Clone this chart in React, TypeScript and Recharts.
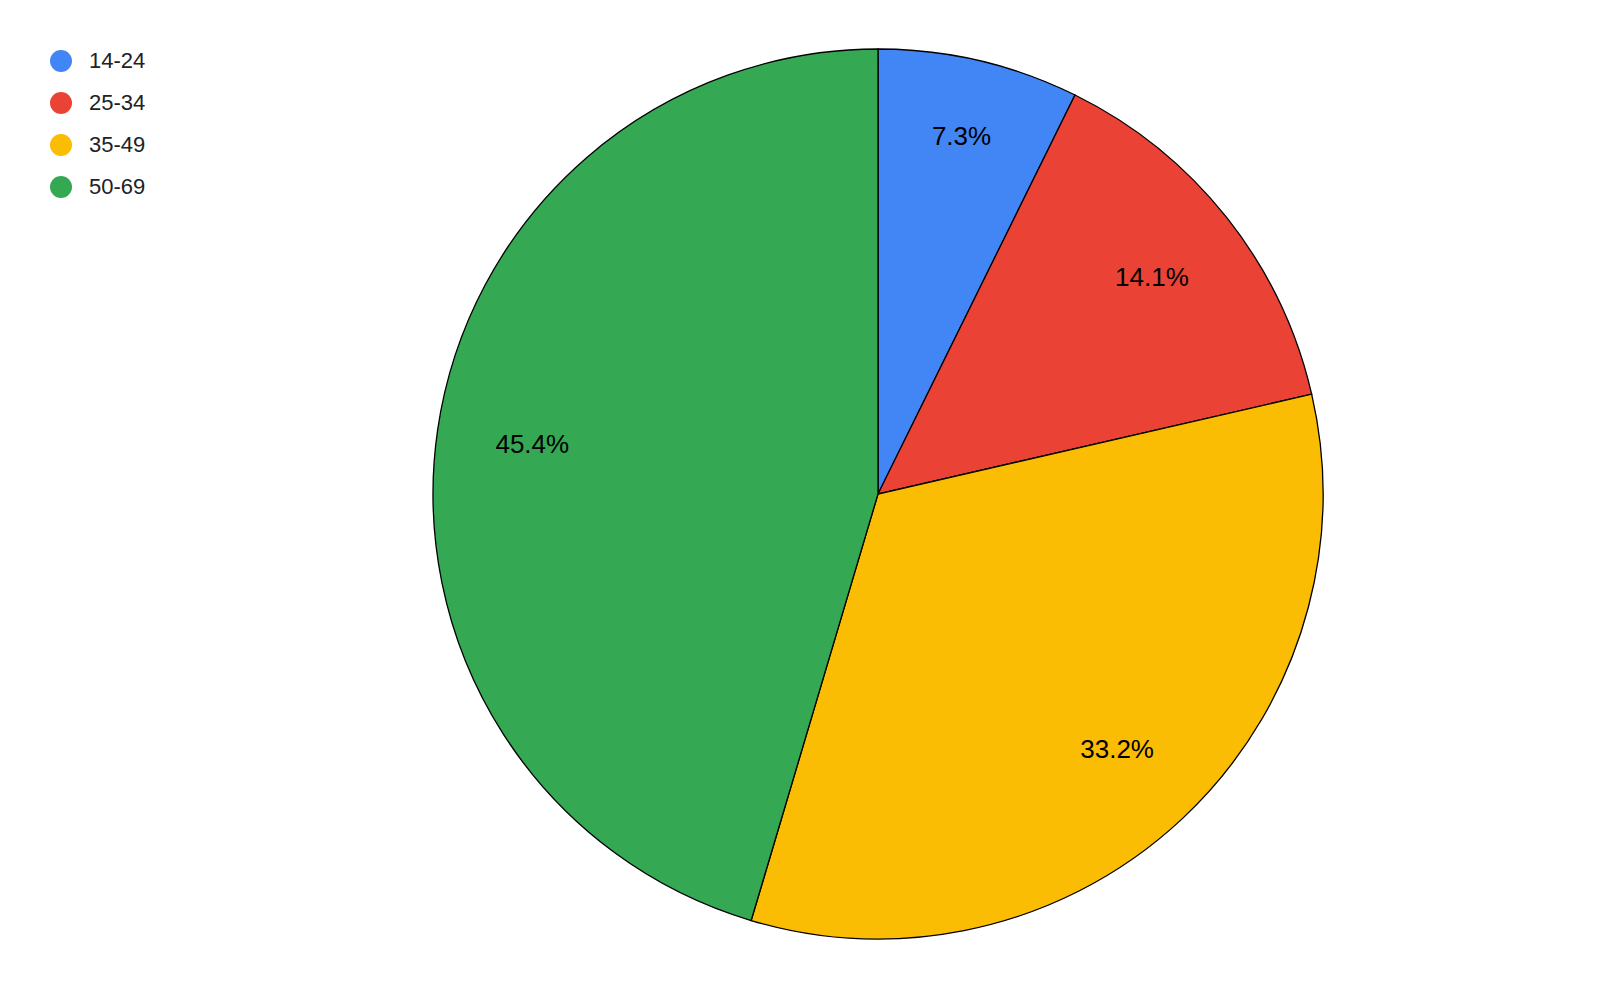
import { PieChart, Pie, Cell } from "recharts";

const ageGroups = ["14-24", "25-34", "35-49", "50-69"];
const shares = [7.3, 14.1, 33.2, 45.4];
const sliceColors = ["#4285F4", "#EA4335", "#FBBC04", "#34A853"];

const data = ageGroups.map((name, i) => ({ name, value: shares[i] }));

const RADIAN = Math.PI / 180;
const FONT = "Arial, 'Liberation Sans', sans-serif";

const renderLabel = ({ cx, cy, midAngle, outerRadius, percent }: any) => {
  // narrow slices get their label pushed a bit further out, like the original
  const r = outerRadius * (percent < 0.1 ? 0.826 : 0.785);
  const x = cx + r * Math.cos(-midAngle * RADIAN);
  const y = cy + r * Math.sin(-midAngle * RADIAN);
  return (
    <text x={x} y={y} fill="#000" fontSize={26} fontFamily={FONT} textAnchor="middle" dominantBaseline="central">
      {(percent * 100).toFixed(1)}%
    </text>
  );
};

// legend kept outside the chart so it doesn't shift the pie's offset
const LegendBox = () => (
  <div style={{ position: "absolute", top: 40, left: 50, fontFamily: FONT }}>
    {ageGroups.map((g, i) => (
      <div key={g} style={{ display: "flex", alignItems: "center", height: 42 }}>
        <span style={{ width: 22, height: 22, borderRadius: "50%", background: sliceColors[i], display: "inline-block", marginRight: 17 }} />
        <span style={{ fontSize: 22, color: "#222" }}>{g}</span>
      </div>
    ))}
  </div>
);

export default function App() {
  return (
    <div style={{ position: "absolute", top: 0, left: 0, width: 1600, height: 990, background: "#fff" }}>
      <PieChart width={1600} height={990} margin={{ top: 0, right: 0, bottom: 0, left: 0 }}>
        <Pie
          data={data}
          dataKey="value"
          nameKey="name"
          cx={878}
          cy={494}
          outerRadius={445}
          startAngle={90}
          endAngle={-270}
          stroke="#000"
          strokeWidth={1.3}
          label={renderLabel}
          labelLine={false}
          isAnimationActive={false}
        >
          {data.map((d, i) => (
            <Cell key={d.name} fill={sliceColors[i]} />
          ))}
        </Pie>
      </PieChart>
      <LegendBox />
    </div>
  );
}
